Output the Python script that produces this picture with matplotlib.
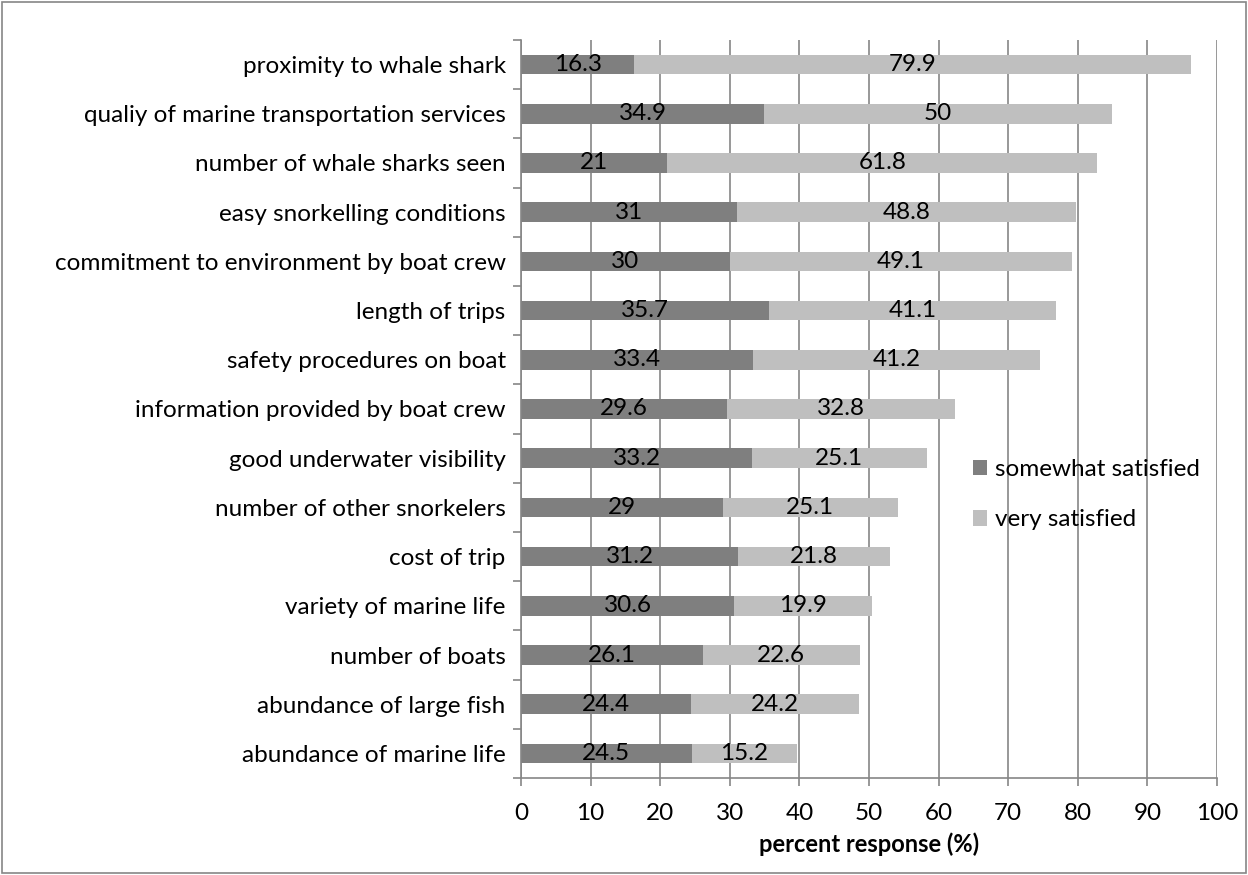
import matplotlib
matplotlib.use("Agg")
import matplotlib.pyplot as plt
import numpy as np
from matplotlib.patches import Rectangle

categories = [
    "proximity to whale shark",
    "qualiy of marine transportation services",
    "number of whale sharks seen",
    "easy snorkelling conditions",
    "commitment to environment by boat crew",
    "length of trips",
    "safety procedures on boat",
    "information provided by boat crew",
    "good underwater visibility",
    "number of other snorkelers",
    "cost of trip",
    "variety of marine life",
    "number of boats",
    "abundance of large fish",
    "abundance of marine life",
]
somewhat = [16.3, 34.9, 21, 31, 30, 35.7, 33.4, 29.6, 33.2, 29, 31.2, 30.6, 26.1, 24.4, 24.5]
very = [79.9, 50, 61.8, 48.8, 49.1, 41.1, 41.2, 32.8, 25.1, 25.1, 21.8, 19.9, 22.6, 24.2, 15.2]
xticks = list(range(0, 101, 10))

plt.rcParams["font.family"] = ["Lato", "DejaVu Sans"]
FS = 17.5

fig = plt.figure(figsize=(12.48, 8.75), dpi=100)
ax = fig.add_axes([521 / 1248, 1 - 778 / 875, (1217 - 521) / 1248, (778 - 40) / 875])

n = len(categories)
y = np.arange(n)[::-1]
h = 0.4
dark = "#7f7f7f"
light = "#bfbfbf"
ax.barh(y, somewhat, height=h, color=dark, label="somewhat satisfied", zorder=2)
ax.barh(y, very, left=somewhat, height=h, color=light, label="very satisfied", zorder=2)

for yi, s, v in zip(y, somewhat, very):
    ax.text(s / 2, yi, f"{s:g}", ha="center", va="center", fontsize=FS, color="black", zorder=3)
    ax.text(s + v / 2, yi, f"{v:g}", ha="center", va="center", fontsize=FS, color="black", zorder=3)

ax.set_xlim(0, 100)
ax.set_ylim(-0.5, n - 0.5)
ax.set_xticks(xticks)
ax.set_xticklabels([str(t) for t in xticks], fontsize=FS)
ax.set_yticks(y)
ax.set_yticklabels(categories, fontsize=FS)
ax.tick_params(axis="y", which="major", length=0, pad=11)
ax.set_yticks(np.arange(-0.5, n, 1.0), minor=True)
ax.tick_params(axis="y", which="minor", length=6, color="#868686", width=1.2)
ax.tick_params(axis="x", length=6, color="#868686", width=1.2, pad=12)
ax.xaxis.grid(True, color="#868686", linewidth=1.2, zorder=0)
ax.set_axisbelow(True)
for side in ["top", "right"]:
    ax.spines[side].set_visible(False)
for side in ["left", "bottom"]:
    ax.spines[side].set_color("#868686")
    ax.spines[side].set_linewidth(1.2)
ax.set_xlabel("percent response (%)", fontsize=FS - 0.5, fontweight="bold", labelpad=6)

leg = ax.legend(loc="upper left", bbox_to_anchor=(0.635, 0.445), frameon=False, fontsize=FS,
                handlelength=0.6, handleheight=0.6, handletextpad=0.3, labelspacing=1.2,
                borderaxespad=0)

fig.patches.append(Rectangle((0.002, 0.002), 0.996, 0.996, transform=fig.transFigure,
                             fill=False, edgecolor="#868686", linewidth=1.2))

fig.savefig("out.png", dpi=100)
